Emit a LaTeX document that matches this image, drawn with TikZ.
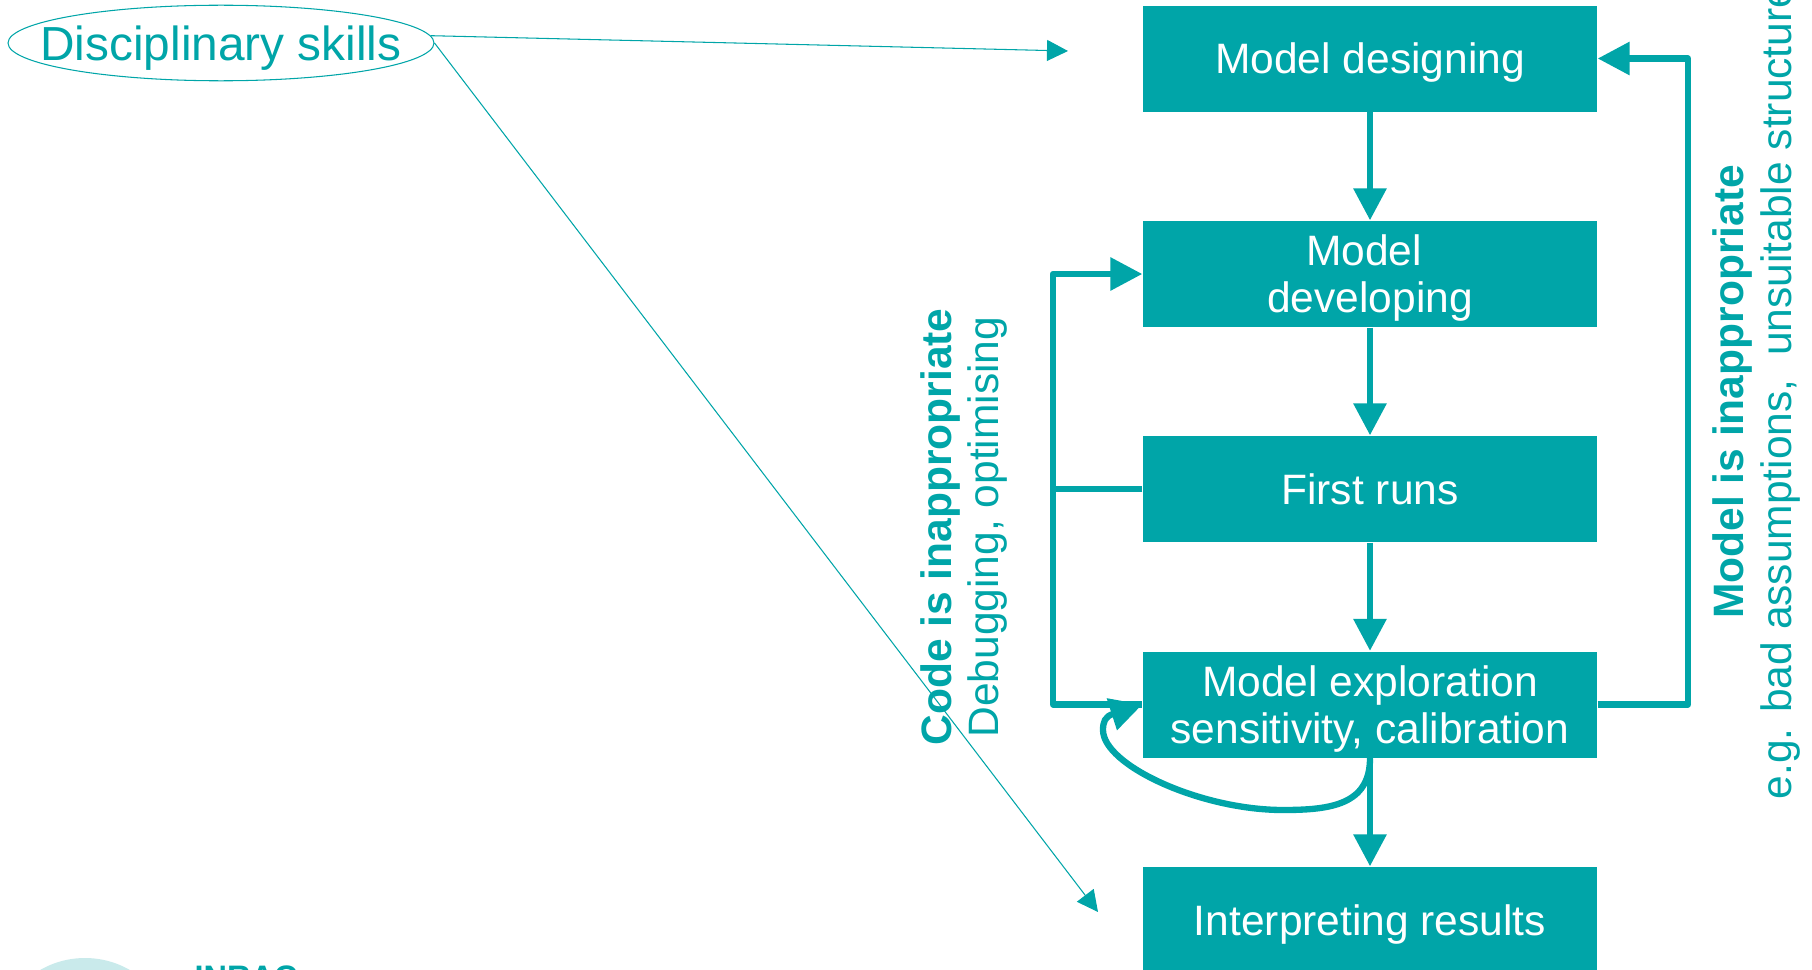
\documentclass[tikz,border=0pt]{standalone}
\usepackage{fontspec}
\setmainfont{Liberation Sans}
\usetikzlibrary{arrows.meta,shapes.geometric}
\definecolor{teal1}{HTML}{00A5A8}
\definecolor{teal2}{HTML}{C9EAEB}
\tikzset{
  stage/.style={fill=teal1,text=white,minimum width=4.54cm,minimum height=1.06cm,inner sep=0pt,
    text depth=0pt,align=center,font=\fontsize{12.1}{13.4}\selectfont},
  back/.style={draw=teal1,line width=1.8pt,line join=round},
  flow/.style={back,-{Triangle[length=0.32cm,width=0.32cm]}},
  link/.style={draw=teal1,line width=0.3pt,-{Triangle[length=0.21cm,width=0.21cm]}},
  sidetext/.style={rotate=90,text=teal1,align=center,inner sep=0pt}
}
\begin{document}
\begin{tikzpicture}
\useasboundingbox (0,0) rectangle (18.12,-9.70);

% logo, cut by the page
\fill[teal2] (0.85,-9.58) arc (90:0:0.9) -- (-0.05,-10.48) arc (180:90:0.9);
\node[anchor=north west,inner sep=0pt,text=teal1,font=\fontsize{9.25}{9.25}\bfseries] (logo) at (1.94,-9.65) {INRAC};

\node[stage] (design)  at (13.70,-0.585) {Model designing};
\node[stage] (develop) at (13.70,-2.74)  {Model\ \mbox{}\\developing};
\node[stage] (first)   at (13.70,-4.89)  {First runs};
\node[stage] (explore) at (13.70,-7.045) {Model exploration\\sensitivity, calibration};
\node[stage] (results) at (13.70,-9.20)  {Interpreting results};

\node[ellipse,draw=teal1,line width=0.3pt,text=teal1,text depth=0pt,inner xsep=-0.3cm,inner ysep=0.094cm,
      font=\fontsize{13.6}{15}\selectfont] (skills) at (2.21,-0.43) {Disciplinary skills};

\node[sidetext,font=\fontsize{12.1}{13.3}\selectfont] (codetxt)  at (9.64,-5.27) {\textbf{Code is inappropriate}\\Debugging, optimising};
\node[sidetext,font=\fontsize{12.1}{13.9}\selectfont] (modeltxt) at (17.565,-3.92) {\textbf{Model is inappropriate}\\e.g. bad assumptions,\ \ unsuitable structure};

\draw[flow] (design) -- (develop);
\draw[flow] (develop) -- (first);
\draw[flow] (first) -- (explore);
\draw[flow] (explore) -- (results);

\coordinate (backl) at (10.53,-4.89);
\draw[flow] (first.west) -- (backl) |- (develop.west);
\draw[back] (backl) |- (explore.west);
\draw[flow] (explore.east) -- (16.88,-7.045) |- (design.east);

\draw[flow] (explore.south) .. controls (13.70,-8.05) and (13.30,-8.10) .. (12.83,-8.10)
     .. controls (12.0,-8.10) and (11.03,-7.65) .. (11.03,-7.30)
     .. controls (11.03,-7.22) and (11.05,-7.165) .. (11.13,-7.139)
     -- (explore.west);

\coordinate (linktop) at (10.68,-0.51);
\coordinate (linkbot) at (10.98,-9.12);
\draw[link] (skills.2) -- (linktop);
\draw[link] (skills.east) -- (linkbot);
\end{tikzpicture}
\end{document}
